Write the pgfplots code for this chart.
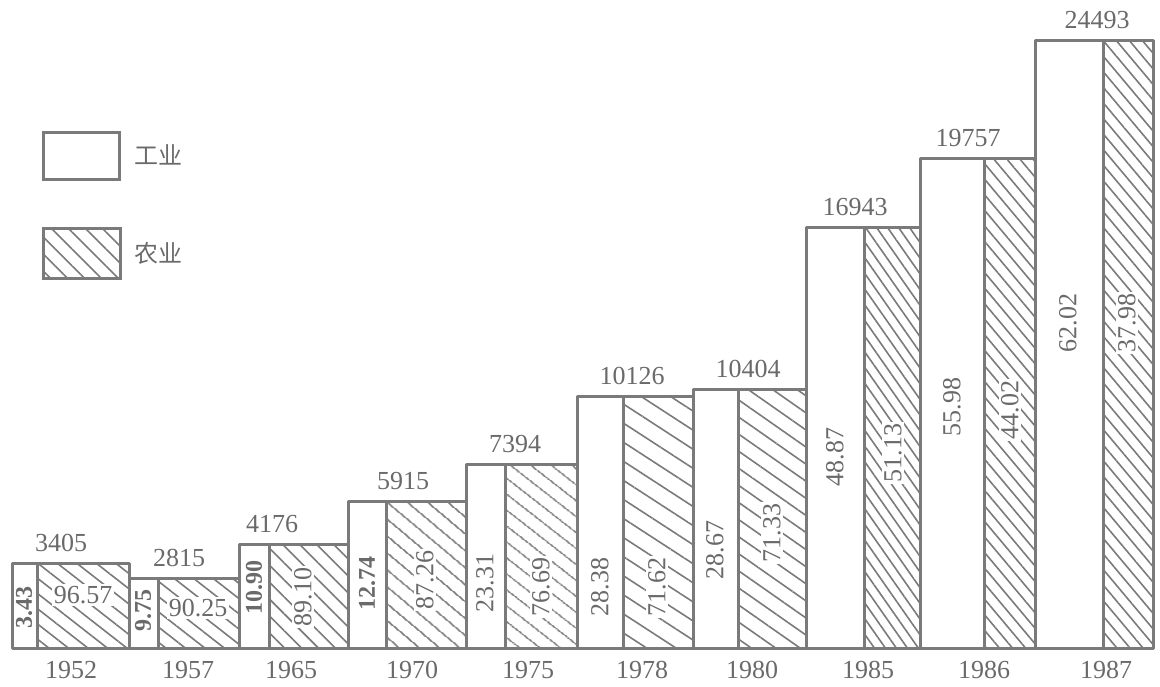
\documentclass[border=0pt]{standalone}
\usepackage{fontspec}
\setmainfont{Liberation Serif}
\newfontfamily\cjk{Noto Sans CJK SC}
\usepackage{pgfplots}
\pgfplotsset{compat=1.18}
\usetikzlibrary{patterns.meta}
\definecolor{lgray}{HTML}{7A7A7A}
\definecolor{txtgray}{HTML}{6A6A6A}

% one year: left edge, split, right edge (picture px), total, hatch angle, hatch distance
\newcommand{\yearbar}[6]{%
  \addplot[ind] coordinates {(#1,0) (#1,#4) (#2,#4) (#2,0)} -- cycle;
  \addplot[agr, pattern={Lines[angle=#5,distance=#6,line width=0.8pt]}]
    coordinates {(#2,0) (#2,#4) (#3,#4) (#3,0)} -- cycle;
}
\newcommand{\valuelabel}[2]{\node[anchor=base, yshift=6pt, txtgray] at (axis cs:#1,#2) {#2};}
\newcommand{\yearlabel}[2]{\node[txtgray] at (axis cs:#1,-887) {#2};}
\newcommand{\indlabel}[3]{\node[rotate=90, txtgray, font=\bfseries\fontsize{12}{14}\selectfont] at (axis cs:#1,#2) {#3};}
\newcommand{\indlabelr}[3]{\node[rotate=90, txtgray] at (axis cs:#1,#2) {#3};}
\newcommand{\agrlabel}[4]{\node[rotate=#4, txtgray, fill=white, inner sep=1pt] at (axis cs:#1,#2) {#3};}

\begin{document}
\begin{tikzpicture}
\begin{axis}[
  name=main,
  scale only axis,
  width=580pt, height=343pt,
  xmin=0, xmax=1160, ymin=-1532, ymax=26129,
  axis lines=none, clip=false,
  font=\fontsize{13}{15}\selectfont,
  ind/.style={draw=lgray, line width=1.5pt, fill=white, line join=round},
  agr/.style={draw=lgray, line width=1.5pt, pattern color=lgray, line join=round},
  legend cell align=left,
  legend style={at={(axis cs:42,20847)}, anchor=north west, draw=none, fill=none,
    inner sep=0pt, row sep=23pt, column sep=4pt,
    font=\cjk\fontsize{12}{14}\selectfont, text=txtgray},
]
\addlegendimage{legend image code/.code={\draw[draw=lgray,line width=1.5pt,fill=white] (0pt,-11.75pt) rectangle (38pt,11.75pt);}}
\addlegendentry{工业}
\addlegendimage{legend image code/.code={\draw[draw=lgray,line width=1.5pt,pattern={Lines[angle=-45,distance=6pt,line width=0.8pt]},pattern color=lgray] (0pt,-12.5pt) rectangle (38.5pt,12.5pt);}}
\addlegendentry{农业}

\yearbar{12}{37}{129}{3405}{-38}{6pt}
\yearbar{129}{158}{239}{2815}{-38}{6pt}
\yearbar{239}{269}{348}{4176}{-45}{6pt}
\yearbar{348}{386}{466}{5915}{-40}{6.5pt}
\yearbar{466}{505}{577}{7394}{-38}{6.5pt}
\yearbar{577}{623}{693}{10126}{-33}{8pt}
\yearbar{693}{738}{806}{10404}{-35}{7pt}
\yearbar{806}{864}{920}{16943}{-55}{4.5pt}
\yearbar{920}{984}{1035}{19757}{-50}{5pt}
\yearbar{1035}{1103}{1153}{24493}{-50}{5pt}

\valuelabel{61}{3405}
\valuelabel{179}{2815}
\valuelabel{272}{4176}
\valuelabel{403}{5915}
\valuelabel{515}{7394}
\valuelabel{632}{10126}
\valuelabel{748}{10404}
\valuelabel{855}{16943}
\valuelabel{968}{19757}
\valuelabel{1097}{24493}

\yearlabel{71}{1952}
\yearlabel{188}{1957}
\yearlabel{291}{1965}
\yearlabel{412}{1970}
\yearlabel{528}{1975}
\yearlabel{642}{1978}
\yearlabel{752}{1980}
\yearlabel{868}{1985}
\yearlabel{984}{1986}
\yearlabel{1106}{1987}

\indlabel{24}{1653}{3.43}
\indlabel{143}{1532}{9.75}
\indlabel{254}{2460}{10.90}
\indlabel{367}{2621}{12.74}
\indlabelr{485}{2621}{23.31}
\indlabelr{600}{2460}{28.38}
\indlabelr{715}{3952}{28.67}
\indlabelr{835}{7702}{48.87}
\indlabelr{952}{9718}{55.98}
\indlabelr{1068}{13105}{62.02}

\agrlabel{83}{2137}{96.57}{0}
\agrlabel{198}{1613}{90.25}{0}
\agrlabel{303}{2056}{89.10}{90}
\agrlabel{425}{2742}{87.26}{90}
\agrlabel{541}{2460}{76.69}{90}
\agrlabel{657}{2460}{71.62}{90}
\agrlabel{772}{4637}{71.33}{90}
\agrlabel{893}{7863}{51.13}{90}
\agrlabel{1010}{9597}{44.02}{90}
\agrlabel{1127}{13105}{37.98}{90}
\end{axis}
\useasboundingbox (main.south west) rectangle (main.north east);
\end{tikzpicture}
\end{document}
